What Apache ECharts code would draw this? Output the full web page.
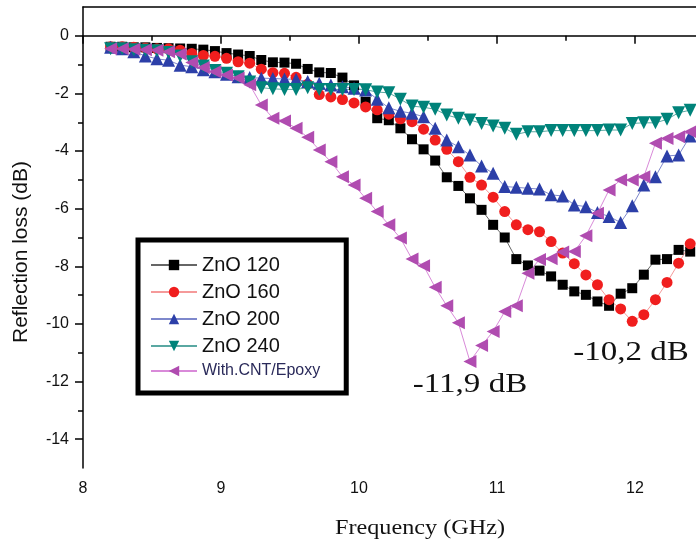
<!DOCTYPE html>
<html>
<head>
<meta charset="utf-8">
<script src="https://cdn.jsdelivr.net/npm/echarts@6/dist/echarts.min.js"></script>
<style>
  html, body { margin: 0; padding: 0; background: #fff; }
  #chart { width: 696px; height: 545px; }
</style>
</head>
<body>
<div id="chart"></div>
<script>
// frequency points (GHz)
var freq = [8.200, 8.284, 8.368, 8.452, 8.536, 8.620, 8.704, 8.788, 8.872, 8.956,
    9.040, 9.124, 9.208, 9.292, 9.376, 9.460, 9.544, 9.628, 9.712, 9.796,
    9.880, 9.964, 10.048, 10.132, 10.216, 10.300, 10.384, 10.468, 10.552, 10.636,
    10.720, 10.804, 10.888, 10.972, 11.056, 11.140, 11.224, 11.308, 11.392, 11.476,
    11.560, 11.644, 11.728, 11.812, 11.896, 11.980, 12.064, 12.148, 12.232, 12.316, 12.400];

// reflection loss (dB)
var zno120 = [-0.38, -0.38, -0.40, -0.40, -0.42, -0.43, -0.44, -0.45, -0.48, -0.53,
    -0.60, -0.65, -0.70, -0.84, -0.92, -0.93, -0.97, -1.15, -1.27, -1.29,
    -1.45, -1.72, -2.29, -2.86, -2.93, -3.21, -3.59, -3.94, -4.33, -4.91,
    -5.21, -5.64, -6.04, -6.56, -7.00, -7.75, -7.97, -8.15, -8.35, -8.64,
    -8.87, -8.99, -9.22, -9.37, -8.95, -8.76, -8.29, -7.77, -7.75, -7.43, -7.49];
var zno160 = [-0.38, -0.38, -0.40, -0.42, -0.45, -0.45, -0.50, -0.61, -0.68, -0.71,
    -0.78, -0.90, -0.95, -1.16, -1.28, -1.30, -1.44, -1.68, -2.04, -2.12,
    -2.21, -2.33, -2.47, -2.57, -2.72, -2.88, -2.98, -3.24, -3.62, -3.94,
    -4.37, -4.91, -5.18, -5.60, -6.10, -6.56, -6.73, -6.80, -7.14, -7.54,
    -7.91, -8.30, -8.64, -9.16, -9.48, -9.91, -9.68, -9.16, -8.56, -7.89, -7.22];
var zno200 = [-0.40, -0.45, -0.55, -0.70, -0.80, -0.85, -1.02, -1.07, -1.18, -1.25,
    -1.33, -1.42, -1.45, -1.47, -1.48, -1.50, -1.51, -1.59, -1.65, -1.71,
    -1.77, -1.82, -1.88, -2.20, -2.50, -2.62, -2.69, -2.81, -3.21, -3.62,
    -3.85, -4.14, -4.52, -4.77, -5.23, -5.26, -5.29, -5.32, -5.52, -5.56,
    -5.87, -5.93, -6.13, -6.27, -6.48, -5.90, -5.18, -4.89, -4.17, -4.14, -3.48];
var zno240 = [-0.45, -0.45, -0.48, -0.50, -0.52, -0.58, -0.70, -0.90, -1.05, -1.20,
    -1.30, -1.42, -1.60, -1.80, -1.84, -1.86, -1.86, -1.80, -1.86, -1.86,
    -1.86, -1.86, -1.87, -1.95, -1.98, -2.20, -2.44, -2.48, -2.55, -2.75,
    -2.86, -2.92, -3.04, -3.13, -3.21, -3.42, -3.33, -3.33, -3.29, -3.29,
    -3.29, -3.29, -3.29, -3.27, -3.27, -3.04, -3.02, -3.02, -2.90, -2.67, -2.58];
var cntEpoxy = [-0.45, -0.45, -0.47, -0.48, -0.50, -0.55, -0.63, -0.93, -1.10, -1.25,
    -1.36, -1.46, -1.70, -2.40, -2.86, -2.96, -3.21, -3.52, -3.96, -4.37,
    -4.89, -5.18, -5.64, -6.10, -6.56, -7.02, -7.75, -7.98, -8.73, -9.37,
    -9.96, -11.30, -10.75, -10.26, -9.57, -9.37, -8.24, -7.76, -7.74, -7.50,
    -7.49, -6.94, -6.16, -5.35, -5.00, -5.00, -4.89, -3.73, -3.56, -3.50, -3.33];

var seriesNames = ['ZnO 120', 'ZnO 160', 'ZnO 200', 'ZnO 240', 'With.CNT/Epoxy'];
var annotations = ['-11,9 dB', '-10,2 dB'];
var xTicks = [8, 9, 10, 11, 12];
var yTicks = [-14, -12, -10, -8, -6, -4, -2, 0];

function pairs(vals) {
    var res = [];
    for (var i = 0; i < freq.length; i++) {
        res.push([freq[i], vals[i]]);
    }
    return res;
}

var sans = 'Liberation Sans';
var axisColor = '#000';

var chart = echarts.init(document.getElementById('chart'), null, { renderer: 'canvas' });

var option = {
    backgroundColor: '#fff',
    animation: false,
    grid: { left: 83, right: 0, top: 7, bottom: 77 },
    legend: {
        orient: 'vertical',
        left: 138,
        top: 240,
        padding: [15, 26, 14, 12],
        itemGap: 7,
        itemWidth: 46,
        itemHeight: 13,
        borderColor: '#000',
        borderWidth: 5,
        textStyle: { fontFamily: sans, fontSize: 20, color: '#111' },
        data: [
            { name: seriesNames[0] },
            { name: seriesNames[1] },
            { name: seriesNames[2] },
            { name: seriesNames[3] },
            { name: seriesNames[4], textStyle: { fontSize: 16, color: '#2a2a5a' } }
        ]
    },
    xAxis: [{
        type: 'value',
        min: 8,
        max: 12.442,
        interval: 1,
        axisLine: { lineStyle: { color: axisColor, width: 1.5 } },
        axisTick: { length: 8, customValues: xTicks, lineStyle: { color: axisColor, width: 1.5 } },
        minorTick: { show: true, splitNumber: 2, length: 5, lineStyle: { color: axisColor, width: 1.5 } },
        axisLabel: { fontFamily: sans, fontSize: 16, color: '#111', margin: 13, customValues: xTicks },
        splitLine: { show: false }
    }, {
        type: 'value',
        position: 'top',
        min: 8,
        max: 12.442,
        axisLine: { show: true, lineStyle: { color: axisColor, width: 1.5 } },
        axisTick: { show: false },
        axisLabel: { show: false },
        splitLine: { show: false }
    }],
    yAxis: {
        type: 'value',
        min: -15,
        max: 1,
        splitNumber: 8,
        axisLine: { show: true, lineStyle: { color: axisColor, width: 1.5 } },
        axisTick: { length: 8, customValues: yTicks, lineStyle: { color: axisColor, width: 1.5 } },
        minorTick: { show: true, splitNumber: 2, length: 5, lineStyle: { color: axisColor, width: 1.5 } },
        axisLabel: { fontFamily: sans, fontSize: 16, color: '#111', margin: 14, customValues: yTicks },
        splitLine: { show: false }
    },
    series: [{
        name: seriesNames[0], type: 'line', data: pairs(zno120),
        symbol: 'rect', symbolSize: 10,
        itemStyle: { color: '#000' },
        lineStyle: { color: '#666', width: 1 }
    }, {
        name: seriesNames[1], type: 'line', data: pairs(zno160),
        symbol: 'circle', symbolSize: 11,
        itemStyle: { color: '#f01e1e' },
        lineStyle: { color: '#f59a9a', width: 1 }
    }, {
        name: seriesNames[2], type: 'line', data: pairs(zno200),
        symbol: 'triangle', symbolSize: 13,
        itemStyle: { color: '#2c3fa8' },
        lineStyle: { color: '#7e88cc', width: 1 }
    }, {
        name: seriesNames[3], type: 'line', data: pairs(zno240),
        symbol: 'triangle', symbolSize: 13, symbolRotate: 180,
        itemStyle: { color: '#00837a' },
        lineStyle: { color: '#5aa8a2', width: 1 }
    }, {
        name: seriesNames[4], type: 'line', data: pairs(cntEpoxy),
        symbol: 'triangle', symbolSize: 13, symbolRotate: 90,
        itemStyle: { color: '#b04cb0' },
        lineStyle: { color: '#d98ad9', width: 1 }
    }],
    graphic: [{
        type: 'text', x: 21, y: 252, rotation: Math.PI / 2,
        style: { text: 'Reflection loss (dB)', font: '21px "Liberation Sans"', fill: '#111',
            textAlign: 'center', textVerticalAlign: 'middle' }
    }, {
        type: 'text', x: 420, y: 528, scaleX: 1.1,
        style: { text: 'Frequency (GHz)', font: '22px "Liberation Serif"', fill: '#111',
            textAlign: 'center', textVerticalAlign: 'middle' }
    }, {
        type: 'text', x: 470, y: 385, scaleX: 1.18,
        style: { text: annotations[0], font: '28px "Liberation Serif"', fill: '#111',
            textAlign: 'center', textVerticalAlign: 'middle' }
    }, {
        type: 'text', x: 631, y: 353, scaleX: 1.18,
        style: { text: annotations[1], font: '28px "Liberation Serif"', fill: '#111',
            textAlign: 'center', textVerticalAlign: 'middle' }
    }]
};

chart.setOption(option);
</script>
</body>
</html>
